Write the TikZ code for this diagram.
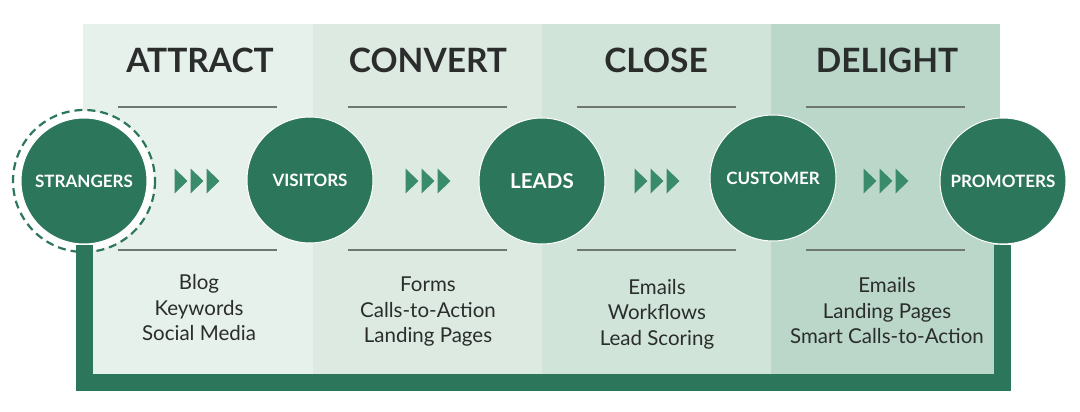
\documentclass[tikz,border=0pt]{standalone}
\usepackage{fontspec}
\setmainfont{Lato}
\usetikzlibrary{calc}
\pgfdeclarelayer{bg}
\pgfsetlayers{bg,main}
\definecolor{gr}{HTML}{2C765B}
\definecolor{tri}{HTML}{3A8A6C}
\definecolor{cA}{HTML}{E7F1EC}
\definecolor{cB}{HTML}{DCEAE2}
\definecolor{cC}{HTML}{D0E4D9}
\definecolor{cD}{HTML}{BAD7CA}
\definecolor{txt}{HTML}{2A2D2C}
\definecolor{rule}{HTML}{6E7772}
\tikzset{
  stage/.style={circle,fill=gr,draw=white,line width=1pt,minimum size=126pt,inner sep=0pt,text=white,font=\bfseries\fontsize{17}{19}\selectfont},
  title/.style={text=txt,font=\bfseries\fontsize{33.5}{36}\selectfont},
  items/.style={text=txt,align=center,font=\fontsize{20.5}{25.5}\selectfont},
  sep/.style={draw=rule,line width=1.3pt},
  chev/.style={fill=tri},
  frame/.style={draw=gr,line width=17pt}
}
\newcommand{\chevs}[1]{%
  \foreach \k in {0,1,2}{\fill[chev] ($(#1)+(-22.5+\k*16,-12.5)$) -- ++(13,12.5) -- ++(-13,12.5) -- cycle;}}
\begin{document}
\begin{tikzpicture}[x=1pt,y=-1pt]
\useasboundingbox (0,0) rectangle (1080,412);
% titles
\node[title] (tA) at (200,60) {ATTRACT};
\node[title] (tB) at (428,60) {CONVERT};
\node[title] (tC) at (656,60) {CLOSE};
\node[title] (tD) at (887,60) {DELIGHT};
% rules
\foreach \a in {118,348,577,806}{
  \draw[sep] (\a,107) -- (\a+159,107);
  \draw[sep] (\a,250) -- (\a+159,250);
}
% items
\node[items] (iA) at (199,308) {Blog\\Keywords\\Social Media};
\node[items] (iB) at (428,312) {Forms\\Calls-to-Action\\Landing Pages};
\node[items] (iC) at (657,314) {Emails\\Workflows\\Lead Scoring};
\node[items] (iD) at (887,311) {Emails\\Landing Pages\\Smart Calls-to-Action};
% stages
\node[stage] (s) at (84,181) {STRANGERS};
\node[stage] (v) at (310,180) {VISITORS};
\node[stage,font=\bfseries\fontsize{20.5}{22}\selectfont] (l) at (542,181) {LEADS};
\node[stage] (c) at (773,178) {CUSTOMER};
\node[stage] (p) at (1003,181) {PROMOTERS};
\coordinate (bl) at (84,382.5);
\coordinate (br) at (1002.5,382.5);
\begin{pgfonlayer}{bg}
  \fill[cA] (83,24) rectangle (313,380);
  \fill[cB] (313,24) rectangle (542,380);
  \fill[cC] (542,24) rectangle (771,380);
  \fill[cD] (771,24) rectangle (1000,380);
  \fill[white] (s.center) circle (70);
  \draw[frame] (s.south) -- (bl) -- (br) -- (br|-p.south);
\end{pgfonlayer}
\draw[gr,line width=2.2pt,dash pattern=on 8pt off 5pt] (s.center) circle (71);
% chevrons
\coordinate (g1) at (197,181);
\coordinate (g2) at (428,181);
\coordinate (g3) at (657,181);
\coordinate (g4) at (886,181);
\chevs{g1}\chevs{g2}\chevs{g3}\chevs{g4}
\end{tikzpicture}
\end{document}
